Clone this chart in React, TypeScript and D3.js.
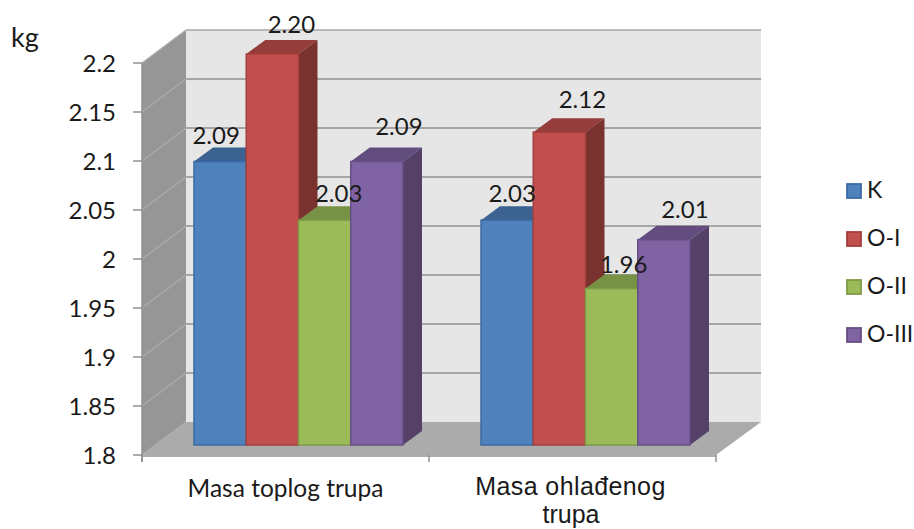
import React from "react";
import * as d3 from "d3";

const categories = ["Masa toplog trupa", "Masa ohlađenog trupa"];
const seriesNames = ["K", "O-I", "O-II", "O-III"];
const seriesK = [2.09, 2.03];
const seriesOI = [2.2, 2.12];
const seriesOII = [2.03, 1.96];
const seriesOIII = [2.09, 2.01];
const tickLabels = ["1.8", "1.85", "1.9", "1.95", "2", "2.05", "2.1", "2.15", "2.2"];
const dataLabels = [["2.09", "2.03"], ["2.20", "2.12"], ["2.03", "1.96"], ["2.09", "2.01"]];
const faceColors = ["#4f81bd", "#c0504d", "#9bbb59", "#8064a2"];
const edgeColors = ["#3b6ba5", "#a63f3c", "#7f9b46", "#664f85"];
const topColors = ["#3a6291", "#953d3b", "#779145", "#624d7e"];
const sideColors = ["#2f5077", "#7a312f", "#5f7437", "#543f68"];

const W = 914, H = 529;
const frontLeft = 142, frontRight = 716, frontY0 = 455, frontY1 = 63;
const wallDx = 44, wallDy = -33;
const barDx = 19, barDy = -14;
const allSeries = [seriesK, seriesOI, seriesOII, seriesOIII];
const numTick = (t: string) => +t;

const yFront = d3.scaleLinear().domain([1.8, 2.2]).range([frontY0, frontY1]);
const yBar = d3.scaleLinear().domain([1.8, 2.2]).range([445, 54]);
const xGroup = d3.scaleBand().domain(categories).range([frontLeft, frontRight]);
const xSeries = d3.scaleBand().domain(seriesNames).range([52, 261]);

const poly = (p: number[][]) => p.map((q) => q.join(",")).join(" ");
const labelFont = "Lato, 'Open Sans', sans-serif";
const labelOffsets = [[-4, -18], [19, -21], [14, -18], [22, -27]];
const labelOffsets2 = [[5, -18], [23, -24], [12, -16], [21, -22]];

export default function App() {
  const ticks = tickLabels.map(numTick);
  return (
    <svg width={W} height={H} style={{ position: "absolute", left: 0, top: 0, background: "#fff" }}>
      <defs>
        <filter id="soft" x="-5%" y="-5%" width="110%" height="110%">
          <feGaussianBlur stdDeviation="0.45" />
        </filter>
      </defs>
      <g filter="url(#soft)">
        {/* back wall */}
        <rect x={frontLeft + wallDx} y={frontY1 + wallDy} width={frontRight - frontLeft + 1} height={frontY0 - frontY1} fill="#e6e6e6" />
        {/* side wall */}
        <polygon
          points={poly([[frontLeft, frontY0], [frontLeft, frontY1], [frontLeft + wallDx, frontY1 + wallDy], [frontLeft + wallDx, frontY0 + wallDy]])}
          fill="#969696"
        />
        {/* floor */}
        <polygon
          points={poly([[frontLeft, frontY0], [frontRight, frontY0], [frontRight + wallDx + 1, frontY0 + wallDy], [frontLeft + wallDx, frontY0 + wallDy]])}
          fill="#ababab"
        />
        {ticks.map((t) => (
          <g key={t}>
            {t > 1.8 && (
              <line x1={frontLeft + wallDx} x2={frontRight + wallDx + 1} y1={yFront(t) + wallDy} y2={yFront(t) + wallDy} stroke="#a6a6a6" strokeWidth={t === 2.2 ? 1.5 : 2} />
            )}
            <line x1={frontLeft} x2={frontLeft + wallDx} y1={yFront(t)} y2={yFront(t) + wallDy} stroke="#adadad" strokeWidth={1.2} />
            <line x1={frontLeft - 9} x2={frontLeft} y1={yFront(t)} y2={yFront(t)} stroke="#909090" strokeWidth={1.5} />
          </g>
        ))}
        {/* axes */}
        <line x1={frontLeft} x2={frontLeft} y1={frontY1} y2={frontY0 + 7} stroke="#909090" strokeWidth={1.5} />
        <line x1={frontLeft} x2={frontRight} y1={frontY0 + 1} y2={frontY0 + 1} stroke="#909090" strokeWidth={1.5} />
        {[...categories.map((c) => xGroup(c)!), frontRight].map((x) => (
          <line key={x} x1={x} x2={x} y1={frontY0} y2={frontY0 + 7} stroke="#909090" strokeWidth={1.5} />
        ))}
        {/* bars, each group left to right */}
        {categories.map((c, ci) =>
          seriesNames.map((s, si) => {
            const x0 = xGroup(c)! + xSeries(s)!;
            const w = xSeries.bandwidth();
            const v = allSeries[si][ci];
            const top = yBar(v), bot = yBar(1.8);
            return (
              <g key={c + s}>
                <polygon points={poly([[x0, top], [x0 + barDx, top + barDy], [x0 + w + barDx, top + barDy], [x0 + w, top]])} fill={topColors[si]} />
                <polygon points={poly([[x0 + w, top], [x0 + w + barDx, top + barDy], [x0 + w + barDx, bot + barDy], [x0 + w, bot]])} fill={sideColors[si]} />
                <rect x={x0} y={top} width={w} height={bot - top} fill={faceColors[si]} stroke={edgeColors[si]} strokeWidth={1.5} />
              </g>
            );
          })
        )}
      </g>
      <g fill="#1a1a1a" fontFamily={labelFont}>
        <text x={11} y={47} fontSize={27}>kg</text>
        {ticks.map((t, i) => (
          <text key={t} x={116} y={yFront(t) + 9} textAnchor="end" fontSize={24}>{tickLabels[i]}</text>
        ))}
        {categories.map((c, ci) =>
          seriesNames.map((s, si) => {
            const x0 = xGroup(c)! + xSeries(s)!;
            const w = xSeries.bandwidth();
            const off = (ci === 0 ? labelOffsets : labelOffsets2)[si];
            return (
              <text key={c + s} x={x0 + w / 2 + off[0]} y={yBar(allSeries[si][ci]) + off[1]} textAnchor="middle" fontSize={24}>
                {dataLabels[si][ci]}
              </text>
            );
          })
        )}
        <text x={285.5} y={497} textAnchor="middle" fontSize={24.5}>{categories[0]}</text>
        <g fontFamily="'Liberation Sans', Arial, sans-serif" fontSize={25}>
          <text x={570.5} y={495} textAnchor="middle" letterSpacing={0.4}>Masa ohlađenog</text>
          <text x={571} y={523} textAnchor="middle">trupa</text>
        </g>
        {seriesNames.map((s, i) => {
          const ly = 191 + i * 48;
          return (
            <g key={s}>
              <rect x={847} y={ly - 7} width={14} height={14} fill={faceColors[i]} stroke={edgeColors[i]} strokeWidth={1.8} />
              <text x={867} y={ly + 7} fontSize={23}>{s}</text>
            </g>
          );
        })}
      </g>
    </svg>
  );
}
